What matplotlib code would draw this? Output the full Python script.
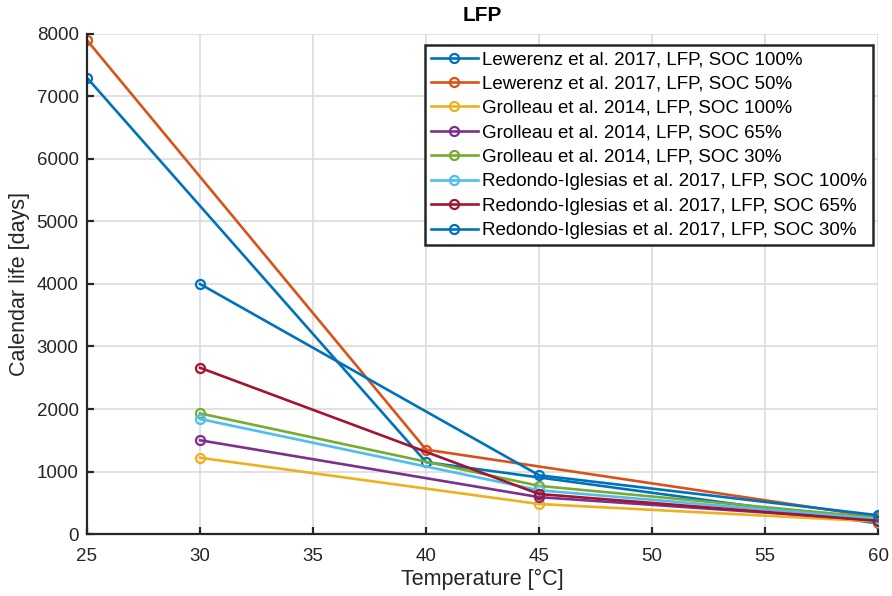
import matplotlib
matplotlib.use('Agg')
import matplotlib.pyplot as plt

plt.rcParams['font.family'] = ['Liberation Sans', 'DejaVu Sans']

# Calendar life data for LFP cells, per study and storage SOC
lew_temp = [25, 40, 60]
lew_soc100 = [7300, 1150, 170]
lew_soc50 = [7900, 1350, 270]

gro_temp = [30, 45, 60]
gro_soc100 = [1220, 480, 200]
gro_soc65 = [1500, 590, 220]
gro_soc30 = [1930, 770, 260]

red_temp = [30, 45, 60]
red_soc100 = [1840, 700, 240]
red_soc65 = [2660, 640, 210]
red_soc30 = [4000, 940, 300]

series = [
    (lew_temp, lew_soc100, '#0072BD', 'Lewerenz et al. 2017, LFP, SOC 100%'),
    (lew_temp, lew_soc50, '#D95319', 'Lewerenz et al. 2017, LFP, SOC 50%'),
    (gro_temp, gro_soc100, '#EDB120', 'Grolleau et al. 2014, LFP, SOC 100%'),
    (gro_temp, gro_soc65, '#7E2F8E', 'Grolleau et al. 2014, LFP, SOC 65%'),
    (gro_temp, gro_soc30, '#77AC30', 'Grolleau et al. 2014, LFP, SOC 30%'),
    (red_temp, red_soc100, '#4DBEEE', 'Redondo-Iglesias et al. 2017, LFP, SOC 100%'),
    (red_temp, red_soc65, '#A2142F', 'Redondo-Iglesias et al. 2017, LFP, SOC 65%'),
    (red_temp, red_soc30, '#0072BD', 'Redondo-Iglesias et al. 2017, LFP, SOC 30%'),
]

fig = plt.figure(figsize=(8.92, 5.96), dpi=100)
ax = fig.add_axes([0.0975, 0.104, 0.887, 0.839])

for x, y, c, lab in series:
    ax.plot(x, y, '-o', color=c, lw=1.9, ms=6.5, mfc='none', mew=1.6, label=lab)

ax.set_xlim(25, 60)
ax.set_ylim(0, 8000)
ax.set_xticks(range(25, 61, 5))
ax.set_yticks(range(0, 8001, 1000))
ax.grid(True, color='#dcdcdc', lw=1.2)
ax.set_axisbelow(True)

for s in ['top', 'right']:
    ax.spines[s].set_visible(False)
for s in ['left', 'bottom']:
    ax.spines[s].set_color('#262626')
    ax.spines[s].set_linewidth(1.6)
ax.tick_params(direction='in', length=5, width=1.6, color='#262626',
               labelcolor='#262626', labelsize=13.5)
ax.tick_params(axis='x', pad=10)
ax.tick_params(axis='y', pad=6)

ax.set_xlabel('Temperature [°C]', fontsize=15.5, color='#262626', labelpad=3)
ax.set_ylabel('Calendar life [days]', fontsize=15.5, color='#262626', labelpad=5)
ax.set_title('LFP', fontsize=15, fontweight='bold', color='#000000', pad=9)

leg = ax.legend(loc='upper right', bbox_to_anchor=(0.993, 0.978), fontsize=13.5,
                handlelength=2.5, handletextpad=0.2, labelspacing=0.39,
                borderpad=0.32, borderaxespad=0, fancybox=False, framealpha=1)
leg.get_frame().set_edgecolor('#262626')
leg.get_frame().set_linewidth(1.8)

fig.savefig('out.png', dpi=100)
